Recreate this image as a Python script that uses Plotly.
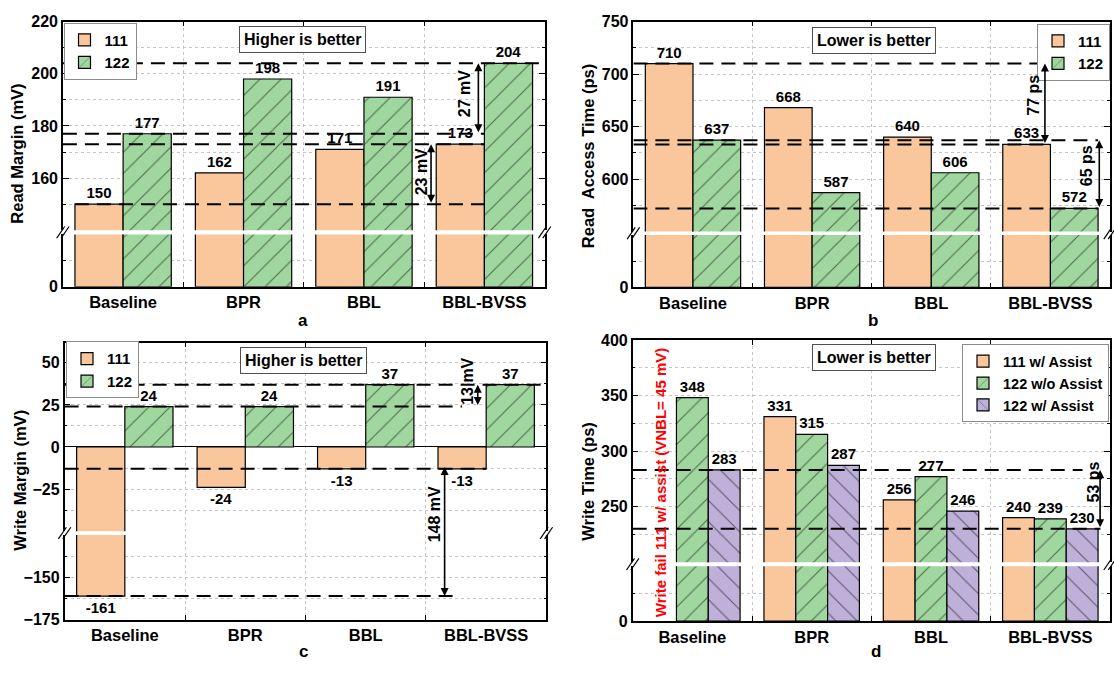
import numpy as np
import plotly.graph_objects as go

W, H = 1114, 673
FONT = "Liberation Sans"

# ---------------- data ----------------
categories = ["Baseline", "BPR", "BBL", "BBL-BVSS"]

read_margin_111 = [150, 162, 171, 173]
read_margin_122 = [177, 198, 191, 204]

read_access_111 = [710, 668, 640, 633]
read_access_122 = [637, 587, 606, 572]

write_margin_111 = [-161, -24, -13, -13]
write_margin_122 = [24, 24, 37, 37]

write_time_111_assist = [None, 331, 256, 240]
write_time_122_no_assist = [348, 315, 277, 239]
write_time_122_assist = [283, 287, 246, 230]

# ---------------- style ----------------
ORANGE = "#F9C79B"
GREEN = "#A0D79E"
PURPLE = "#BEB0D8"
GRID = "#C4C4C4"


def fx(p):
    return p / W


def fy(p):
    return 1 - p / H


def bold(size, color="black"):
    return dict(family=FONT, size=size, color=color, weight="bold")


panels = [
    dict(
        letter="a", xpx=(62.9, 544.6), up=(14.0, 228.0), lo=(232.3, 286.0),
        up_range=(140, 220), lo_range=(0, 20),
        up_ticks=[160, 180, 200, 220], lo_ticks=[0], minor=10,
        title="Read Margin (mV)", title_pos=(17.5, 150), letter_pos=(303, 321),
        series=[("111", read_margin_111, ORANGE, ""), ("122", read_margin_122, GREEN, "/")],
        dashes=[("up", read_margin_122[3], -0.5, 3.5), ("up", read_margin_122[0], -0.5, 3.0),
                ("up", read_margin_111[3], -0.5, 3.0), ("up", read_margin_111[0], -0.4, 3.0)],
        arrows=[(2.95, read_margin_122[0], read_margin_122[3]),
                (2.557, read_margin_111[0], read_margin_111[3])],
        notes=[(2.83, 192.5, f"{read_margin_122[3] - read_margin_122[0]} mV"),
               (2.478, 162.4, f"{read_margin_111[3] - read_margin_111[0]} mV")],
        box=("Higher is better", 302.5, 32),
        legend=dict(x=fx(63.5), y=fy(15), xanchor="left"), legend_font=15,
    ),
    dict(
        letter="b", xpx=(633.4, 1110.0), up=(14.0, 229.3), lo=(233.0, 286.7),
        up_range=(550, 750), lo_range=(0, 50),
        up_ticks=[600, 650, 700, 750], lo_ticks=[0], minor=25,
        title="Read\u00a0 Access Time (ps)", title_pos=(588, 152), letter_pos=(873, 321),
        series=[("111", read_access_111, ORANGE, ""), ("122", read_access_122, GREEN, "/")],
        dashes=[("up", read_access_111[0], -0.5, 3.0), ("up", read_access_122[0], -0.5, 3.4),
                ("up", read_access_111[3], -0.5, 3.0), ("up", read_access_122[3], -0.5, 3.4)],
        arrows=[(2.954, read_access_111[3], read_access_111[0]),
                (3.41, read_access_122[3], read_access_122[0])],
        notes=[(2.851, 680, f"{read_access_111[0] - read_access_111[3]} ps"),
               (3.304, 612.8, f"{read_access_122[0] - read_access_122[3]} ps")],
        box=("Lower is better", 874, 33),
        legend=dict(x=fx(1110), y=fy(16), xanchor="right"), legend_font=15,
    ),
    dict(
        letter="c", xpx=(64.6, 546.4), up=(343.3, 536.7), lo=(540.7, 627.7),
        up_range=(-50, 62), lo_range=(-175, -125),
        up_ticks=[-25, 0, 25, 50], lo_ticks=[-175, -150], minor=12.5,
        title="Write Margin (mV)", title_pos=(20, 485), letter_pos=(303.6, 660),
        series=[("111", write_margin_111, ORANGE, ""), ("122", write_margin_122, GREEN, "/")],
        dashes=[("up", write_margin_122[3], -0.5, 3.5), ("up", write_margin_122[0], -0.5, 2.8),
                ("up", write_margin_111[3], -0.5, 3.0), ("lo", write_margin_111[0], -0.5, 2.78)],
        arrows=[(2.93, write_margin_122[0], write_margin_122[3])],
        notes=[(2.845, 39, f"{write_margin_122[3] - write_margin_122[0]} mV"),
               (2.567, -40, f"{write_margin_111[3] - write_margin_111[0]} mV")],
        box=("Higher is better", 303.5, 361.3),
        legend=dict(x=fx(66), y=fy(342), xanchor="left"), legend_font=15,
    ),
    dict(
        letter="d", xpx=(632.7, 1110.0), up=(340.5, 568.5), lo=(572.7, 629.0),
        up_range=(200, 400), lo_range=(0, 50),
        up_ticks=[250, 300, 350, 400], lo_ticks=[0], minor=25,
        title="Write Time (ps)", title_pos=(588, 486), letter_pos=(876, 660),
        series=[("111 w/ Assist", write_time_111_assist, ORANGE, ""),
                ("122 w/o Assist", write_time_122_no_assist, GREEN, "/"),
                ("122 w/ Assist", write_time_122_assist, PURPLE, "\\")],
        dashes=[("up", write_time_122_assist[0], -0.5, 3.27), ("up", write_time_122_assist[3], -0.5, 3.42)],
        arrows=[(3.417, write_time_122_assist[3], write_time_122_assist[0])],
        notes=[(3.358, 271.8, f"{write_time_122_assist[0] - write_time_122_assist[3]} ps")],
        box=("Lower is better", 874, 359),
        legend=dict(x=fx(1109), y=fy(345), xanchor="right"), legend_font=14.5,
    ),
]

fig = go.Figure()
layout = dict(
    width=W, height=H, margin=dict(l=0, r=0, t=0, b=0),
    paper_bgcolor="white", plot_bgcolor="white",
    font=bold(15), barmode="group", bargap=0.2, bargroupgap=0.0,
)
annotations, shapes = [], []


def ypix(P, seg, v):
    top, bot = P[seg]
    r0, r1 = P[seg + "_range"]
    return top + (r1 - v) / (r1 - r0) * (bot - top)


def note(**kw):
    base = dict(showarrow=False, xanchor="center", yanchor="middle")
    base.update(kw)
    annotations.append(base)


for pi, P in enumerate(panels):
    legend_id = "legend" if pi == 0 else f"legend{pi + 1}"
    layout[legend_id] = dict(
        yanchor="top", bgcolor="white", bordercolor="#8C8C8C", borderwidth=1,
        font=bold(P["legend_font"]), tracegroupgap=0, itemwidth=30, **P["legend"])
    ids = {}
    for si, seg in enumerate(("up", "lo")):
        n = 2 * pi + si + 1
        xa = "x" if n == 1 else f"x{n}"
        ya = "y" if n == 1 else f"y{n}"
        ids[seg] = (xa, ya)
        r0, r1 = P[seg + "_range"]
        for name, vals, color, pshape in P["series"]:
            texts = ["" if (v is None or not (r0 <= v <= r1)) else str(v) for v in vals]
            fig.add_trace(go.Bar(
                x=categories, y=vals, name=name, xaxis=xa, yaxis=ya,
                legend=legend_id, showlegend=(si == 0),
                marker=dict(color=color, line=dict(color="black", width=1.2),
                            pattern=dict(shape=pshape, fgcolor="black", bgcolor=color,
                                         size=15, solidity=0.07)),
                text=texts, textposition="outside", textfont=bold(15),
                cliponaxis=False, constraintext="none", hoverinfo="skip",
            ))
        top, bot = P[seg]
        step = P["minor"]
        minor_vals = list(np.arange(np.ceil(r0 / step) * step, r1 + 1e-9, step))
        layout["xaxis" if n == 1 else f"xaxis{n}"] = dict(
            domain=[fx(P["xpx"][0]), fx(P["xpx"][1])], anchor=ya, type="category",
            range=[-0.5, 3.5], tickson="boundaries", ticks="inside", ticklen=5,
            tickwidth=1.2, tickcolor="black", showgrid=True, gridcolor=GRID,
            griddash="dot", gridwidth=1, showline=True, linecolor="black",
            linewidth=1.5, mirror=False, side="top" if si == 0 else "bottom",
            showticklabels=(si == 1), tickfont=bold(16.5), zeroline=False, fixedrange=True,
        )
        layout["yaxis" if n == 1 else f"yaxis{n}"] = dict(
            domain=[fy(bot), fy(top)], anchor=xa, range=[r0, r1],
            tickmode="array", tickvals=P[seg + "_ticks"], ticks="inside", ticklen=6,
            tickwidth=1.2, tickcolor="black", showgrid=True, gridcolor=GRID,
            griddash="dot", gridwidth=1,
            minor=dict(tickmode="array", tickvals=minor_vals, ticks="inside", ticklen=3,
                       tickwidth=1, tickcolor="black", showgrid=True, gridcolor=GRID,
                       griddash="dot", gridwidth=1),
            showline=True, mirror="ticks", linecolor="black", linewidth=1.5,
            zeroline=(pi == 2 and si == 0), zerolinecolor="black", zerolinewidth=1.3,
            tickfont=bold(16), fixedrange=True,
        )

    # dashed reference lines
    for seg, val, x0, x1 in P["dashes"]:
        xa, ya = ids[seg]
        shapes.append(dict(type="line", xref=xa, yref=ya, x0=x0, x1=x1, y0=val, y1=val,
                           line=dict(color="black", width=2, dash="14px,8px")))

    # double-headed arrows within the upper segment
    xa, ya = ids["up"]
    for xv, v0, v1 in P["arrows"]:
        annotations.append(dict(
            xref=xa, yref=ya, x=xv, y=v1, axref=xa, ayref=ya, ax=xv, ay=v0,
            text="", showarrow=True, arrowhead=2, startarrowhead=2, arrowside="end+start",
            arrowsize=1, startarrowsize=1, arrowwidth=1.6, arrowcolor="black",
            standoff=0, startstandoff=0))
    for xv, yv, txt in P["notes"]:
        note(xref=xa, yref=ya, x=xv, y=yv, text=txt, textangle=-90, font=bold(16))

    # "Higher / Lower is better" box
    btxt, bx, by = P["box"]
    note(xref="paper", yref="paper", x=fx(bx), y=fy(by), text=btxt, font=bold(16),
         bgcolor="white", bordercolor="#505050", borderwidth=1, borderpad=4)
    # axis title
    tx, ty = P["title_pos"]
    note(xref="paper", yref="paper", x=fx(tx), y=fy(ty), text=P["title"],
         textangle=-90, font=bold(16.5))
    # panel letter
    lx, ly = P["letter_pos"]
    note(xref="paper", yref="paper", x=fx(lx), y=fy(ly), text=P["letter"], font=bold(17))
    # axis break marks
    cy = (P["up"][1] + P["lo"][0]) / 2
    for axx in P["xpx"]:
        for off in (-2.2, 2.2):
            shapes.append(dict(type="line", xref="paper", yref="paper",
                               x0=fx(axx + off - 4), y0=fy(cy + 6),
                               x1=fx(axx + off + 4), y1=fy(cy - 6),
                               line=dict(color="black", width=1.2)))

# cross-break arrow in panel c (from -13 down to -161)
Pc = panels[2]
head_px = ypix(Pc, "lo", write_margin_111[0])
tail_px = ypix(Pc, "up", write_margin_111[3])
annotations.append(dict(
    xref="x6", yref="y6", x=2.655, y=write_margin_111[0], axref="pixel", ayref="pixel",
    ax=0, ay=tail_px - head_px, text="", showarrow=True, arrowhead=2, startarrowhead=2,
    arrowside="end+start", arrowsize=1, startarrowsize=1, arrowwidth=1.6,
    arrowcolor="black", standoff=0, startstandoff=0))

# red note in panel d
note(xref="paper", yref="paper", x=fx(660), y=fy(487.5),
     text="Write fail 111 w/ assist (VNBL= 45 mV)", textangle=-90,
     font=bold(15, "#FF0000"))

layout["annotations"] = annotations
layout["shapes"] = shapes
fig.update_layout(**layout)
fig.write_html(
    "out.html",
    config={"displayModeBar": False},
    post_script=("document.body.style.margin='0';document.body.style.padding='0';"
                 "document.documentElement.style.overflow='hidden';"
                 "document.body.style.overflow='hidden';"),
)
